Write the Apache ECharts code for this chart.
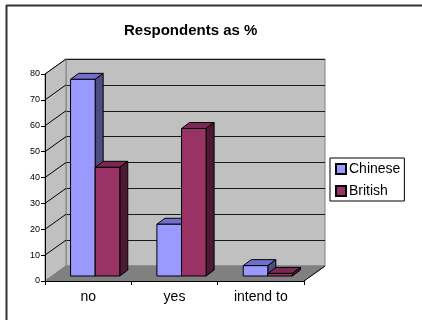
<!DOCTYPE html>
<html>
<head>
<meta charset="utf-8">
<title>Respondents as %</title>
<script src="https://cdn.jsdelivr.net/npm/echarts@6/dist/echarts.min.js"></script>
<style>
  html, body { margin: 0; padding: 0; background: #fff; }
  #chart { width: 422px; height: 320px; }
</style>
</head>
<body>
<div id="chart"></div>
<script>
// data
var categories = ['no', 'yes', 'intend to'];
var chinese = [76, 20, 4];
var british = [42, 57, 1];
var yTicks = [0, 10, 20, 30, 40, 50, 60, 70, 80];

// depth of the fake 3d box, and of each bar
var DX = 21, DY = -15;
var BDX = 8, BDY = -6;
var FONT = '"Liberation Sans", Arial, sans-serif';

function barItem(slot, front, top, side) {
    return function (params, api) {
        var i = api.value(0);
        var p0 = api.coord([i, 0]);
        var p1 = api.coord([i, api.value(1)]);
        var band = api.size([1, 0])[0];
        var w = band * 0.285;
        var x0 = p0[0] - w + slot * w;
        var x1 = x0 + w;
        var y0 = p0[1], y1 = p1[1];
        var line = { stroke: '#000', lineWidth: 1 };
        return {
            type: 'group',
            children: [
                { type: 'polygon', shape: { points: [[x0, y1], [x0 + BDX, y1 + BDY], [x1 + BDX, y1 + BDY], [x1, y1]] },
                  style: Object.assign({ fill: top }, line) },
                { type: 'polygon', shape: { points: [[x1, y1], [x1 + BDX, y1 + BDY], [x1 + BDX, y0 + BDY], [x1, y0]] },
                  style: Object.assign({ fill: side }, line) },
                { type: 'rect', shape: { x: x0, y: y1, width: w, height: y0 - y1 },
                  style: Object.assign({ fill: front }, line) }
            ]
        };
    };
}

// left wall, floor and wall lines
function boxItem(params, api) {
    var cs = params.coordSys;
    var l = cs.x, r = cs.x + cs.width, t = cs.y, b = cs.y + cs.height;
    var kids = [
        { type: 'polygon', shape: { points: [[l, b], [l, t], [l + DX, t + DY], [l + DX, b + DY]] },
          style: { fill: '#c0c0c0', stroke: '#808080', lineWidth: 1 } },
        { type: 'polygon', shape: { points: [[l, b], [r, b], [r + DX, b + DY], [l + DX, b + DY]] },
          style: { fill: '#808080', stroke: '#808080', lineWidth: 1 } },
        { type: 'line', shape: { x1: r, y1: b, x2: r + DX, y2: b + DY },
          style: { stroke: '#000', lineWidth: 1 } }
    ];
    yTicks.forEach(function (v) {
        if (v === 0) return;
        var y = api.coord([0, v])[1];
        kids.push({ type: 'line', shape: { x1: l, y1: y, x2: l + DX, y2: y + DY },
                    style: { stroke: '#000', lineWidth: 1 } });
    });
    return { type: 'group', children: kids };
}

var pairs = function (arr) { return arr.map(function (v, i) { return [i, v]; }); };

var option = {
    animation: false,
    textStyle: { fontFamily: FONT, color: '#000' },
    title: {
        text: 'Respondents as %',
        left: 124, top: 23, padding: 0,
        textStyle: { fontFamily: FONT, fontSize: 15, fontWeight: 'bold', color: '#000' }
    },
    legend: {
        orient: 'vertical',
        left: 330, top: 158,
        padding: [4, 4, 3, 5],
        itemGap: 8,
        itemWidth: 10, itemHeight: 10,
        icon: 'rect',
        borderColor: '#000', borderWidth: 1,
        textStyle: { fontFamily: FONT, fontSize: 14, color: '#000', padding: [0, 0, 0, -2] },
        data: ['Chinese', 'British']
    },
    graphic: [
        { type: 'line', shape: { x1: 6, y1: 5.5, x2: 422, y2: 5.5 }, style: { stroke: '#333', lineWidth: 2 } },
        { type: 'line', shape: { x1: 6.5, y1: 5, x2: 6.5, y2: 320 }, style: { stroke: '#333', lineWidth: 2 } }
    ],
    grid: [
        // back wall
        { left: 66, top: 59, width: 259, height: 207, show: true,
          backgroundColor: '#c0c0c0', borderColor: '#808080', borderWidth: 1 },
        // front axes
        { left: 45, top: 74, width: 259, height: 207 },
        // bars, set a third of the way back
        { left: 52, top: 69, width: 259, height: 207 }
    ],
    xAxis: [
        { gridIndex: 0, type: 'category', data: categories, show: false },
        { gridIndex: 1, type: 'category', data: categories, z: 5,
          axisLine: { lineStyle: { color: '#000', width: 1 } },
          axisTick: { show: true, length: 4, lineStyle: { color: '#000' } },
          axisLabel: { fontSize: 14, margin: 9, color: '#000', fontFamily: FONT } },
        { gridIndex: 2, type: 'category', data: categories, show: false }
    ],
    yAxis: [
        { gridIndex: 0, type: 'value', min: 0, max: 80, interval: 10,
          axisLabel: { show: false }, axisLine: { show: false }, axisTick: { show: false },
          splitLine: { lineStyle: { color: '#1a1a1a', width: 1 } } },
        { gridIndex: 1, type: 'value', min: 0, max: 80, interval: 10, z: 5,
          axisLine: { show: true, lineStyle: { color: '#000', width: 1 } },
          axisTick: { show: true, length: 4, lineStyle: { color: '#000' } },
          axisLabel: { fontSize: 9, margin: 5, color: '#000', fontFamily: FONT },
          splitLine: { show: false } },
        { gridIndex: 2, type: 'value', min: 0, max: 80, interval: 10, show: false,
          splitLine: { show: false } }
    ],
    series: [
        { type: 'custom', name: 'box', xAxisIndex: 1, yAxisIndex: 1, z: 1, silent: true,
          renderItem: boxItem, data: [[0, 0]] },
        { type: 'custom', name: 'Chinese', xAxisIndex: 2, yAxisIndex: 2, z: 3,
          itemStyle: { color: '#9999ff', borderColor: '#000', borderWidth: 1 },
          renderItem: barItem(0, '#9999ff', '#7070cc', '#4d4d80'), data: pairs(chinese) },
        { type: 'custom', name: 'British', xAxisIndex: 2, yAxisIndex: 2, z: 3,
          itemStyle: { color: '#993366', borderColor: '#000', borderWidth: 1 },
          renderItem: barItem(1, '#993366', '#7a2952', '#4d1a33'), data: pairs(british) }
    ]
};

var myChart = echarts.init(document.getElementById('chart'));
myChart.setOption(option, true);
</script>
</body>
</html>
